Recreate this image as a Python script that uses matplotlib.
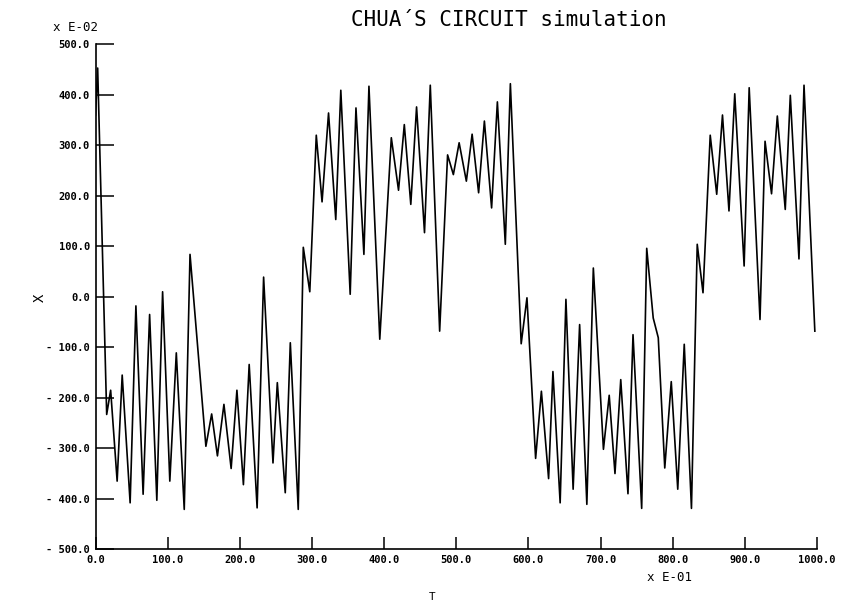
import matplotlib
matplotlib.use("Agg")
import matplotlib.pyplot as plt

# extrema of the trace (T in units of E-01, X in units of E-02)
t_vals = [0, 3, 15.5, 21, 30, 37, 48, 56, 66, 75, 85, 93, 103, 112, 123, 131,
          153, 161, 169, 178, 188, 196, 205, 213, 224, 233, 246, 252, 263, 270,
          281, 288, 297, 306, 314, 323, 333, 340, 353, 361, 372, 379, 394, 410,
          420, 428, 437, 445, 456, 464, 477, 488, 496, 504, 514, 522, 531, 539,
          549, 557, 568, 575, 590, 598, 610, 618, 628, 634, 644, 652, 662, 671,
          681, 690, 704, 712, 720, 728, 738, 745, 757, 764, 773, 780, 789, 798,
          807, 816, 826, 834, 842, 852, 861, 869, 878, 886, 899, 906, 921, 928,
          937, 945, 956, 963, 975, 982, 997]
x_vals = [360, 453, -233, -185, -365, -155, -408, -18, -391, -35, -403, 10, -365,
          -111, -421, 84, -296, -232, -315, -213, -340, -185, -372, -134, -418, 39,
          -329, -170, -388, -91, -421, 98, 10, 320, 188, 364, 153, 409, 5, 374, 84,
          417, -84, 315, 211, 341, 183, 376, 127, 419, -68, 281, 242, 305, 229, 322,
          206, 348, 176, 386, 104, 422, -93, -2, -320, -187, -360, -148, -408, -5,
          -381, -55, -411, 57, -302, -195, -350, -164, -390, -75, -419, 96, -42,
          -81, -339, -168, -381, -94, -419, 104, 8, 320, 203, 360, 170, 402, 61,
          414, -45, 308, 204, 358, 173, 399, 75, 419, -68]

x_ticks = [0, 100, 200, 300, 400, 500, 600, 700, 800, 900, 1000]
y_ticks = [500, 400, 300, 200, 100, 0, -100, -200, -300, -400, -500]


def ylab(v):
    if v < 0:
        return "- %.1f" % abs(v)
    return "%.1f" % v


W, H = 842, 605
fig = plt.figure(figsize=(W / 100, H / 100), dpi=100)
ax = fig.add_axes([95.5 / W, 1 - 549.3 / H, (817 - 95.5) / W, 505 / H])

ax.plot(t_vals, x_vals, color="black", lw=1.2)

ax.set_xlim(0, 1000)
ax.set_ylim(-500, 500)
ax.spines["top"].set_visible(False)
ax.spines["right"].set_visible(False)
for s in ("left", "bottom"):
    ax.spines[s].set_linewidth(1.2)

ax.set_xticks(x_ticks)
ax.set_xticklabels(["%.1f" % v for v in x_ticks])
ax.set_yticks(y_ticks)
ax.set_yticklabels([ylab(v) for v in y_ticks])
ax.tick_params(axis="x", direction="in", length=8.6, width=1.1, pad=4)
ax.tick_params(axis="y", direction="in", length=13, width=1.1, pad=4)
for lab in ax.get_xticklabels() + ax.get_yticklabels():
    lab.set_family("DejaVu Sans Mono")
    lab.set_fontweight("bold")
    lab.set_fontsize(7.5)

fig.text(509 / W, 1 - 19.5 / H, "CHUA´S CIRCUIT simulation", ha="center", va="center",
         family="DejaVu Sans Mono", fontsize=15)
fig.text(53 / W, 1 - 27.5 / H, "x E-02", ha="left", va="center",
         family="DejaVu Sans Mono", fontsize=9)
fig.text(646.7 / W, 1 - 577.5 / H, "x E-01", ha="left", va="center",
         family="DejaVu Sans Mono", fontsize=9)
fig.text(432 / W, 1 - 597 / H, "T", ha="center", va="center",
         family="DejaVu Sans Mono", fontsize=8)
fig.text(40 / W, 1 - 298 / H, "X", ha="center", va="center", rotation=90,
         family="DejaVu Sans Mono", fontsize=10)

fig.savefig("out.png", dpi=100)
